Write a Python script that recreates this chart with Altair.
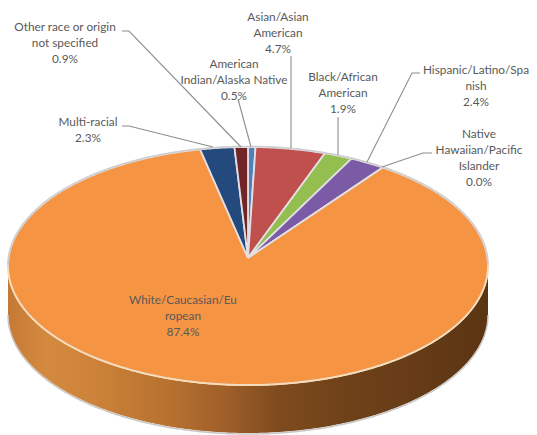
import numpy as np
import pandas as pd
import altair as alt

# Slice shares in percent, clockwise from twelve o'clock
categories = ["American Indian/Alaska Native", "Asian/Asian American", "Black/African American",
              "Hispanic/Latino/Spanish", "Native Hawaiian/Pacific Islander",
              "White/Caucasian/European", "Multi-racial", "Other race or origin not specified"]
shares = [0.5, 4.7, 1.9, 2.4, 0.0, 87.4, 2.3, 0.9]
colors = ["#4f81bd", "#c0504d", "#94bf50", "#7b5ba6", "#4bacc6", "#f59544", "#24497c", "#722527"]

label_text = ["American\nIndian/Alaska Native\n0.5%", "Asian/Asian\nAmerican\n4.7%",
              "Black/African\nAmerican\n1.9%", "Hispanic/Latino/Spa\nnish\n2.4%",
              "Native\nHawaiian/Pacific\nIslander\n0.0%", "White/Caucasian/Eu\nropean\n87.4%",
              "Multi-racial\n2.3%", "Other race or origin\nnot specified\n0.9%"]
label_x = [234, 278, 343, 476, 479, 183, 88, 65]
label_y = [64, 17, 77, 70, 134, 300, 122, 27]

# Leader lines as polylines: one list of (x, y) vertices per callout
leaders = [
    [(238, 99), (251, 147)],
    [(291, 56), (291, 148)],
    [(338, 117), (338, 155)],
    [(420, 73), (412, 73), (367, 162)],
    [(432, 153), (423, 153), (382, 167)],
    [(122, 126), (129, 126), (213, 147)],
    [(122, 31), (129, 31), (241, 147)],
]

# Tilted-disc geometry of the pie
CX, CY, RX, RY = 248, 266, 240, 119
APEX_Y = 258
DEPTH = 48
W, H = 537, 435


def rim(theta_deg, dy=0.0):
    t = np.radians(theta_deg)
    return CX + RX * np.sin(t), CY + dy - RY * np.cos(t)


x_enc = alt.X("px:Q", scale=alt.Scale(domain=[0, W], nice=False, zero=False), axis=None)
y_enc = alt.Y("py:Q", scale=alt.Scale(domain=[H, 0], nice=False, zero=False), axis=None)

# Wedges, closed back at the apex
rows = []
total = sum(shares)
start = 0.0
for cat, share in zip(categories, shares):
    end = start + 360 * share / total
    n = max(2, int((end - start) * 2) + 2)
    pts = [(CX, APEX_Y)] + [rim(a) for a in np.linspace(start, end, n)] + [(CX, APEX_Y)]
    for i, (px, py) in enumerate(pts):
        rows.append({"cat": cat, "i": i, "px": px, "py": py})
    start = end
wedges = (
    alt.Chart(pd.DataFrame(rows))
    .mark_line(filled=True, stroke="#e2e0e4", strokeWidth=1.8, strokeJoin="miter", clip=False)
    .encode(
        x=x_enc, y=y_enc, order="i:Q", detail="cat:N",
        fill=alt.Fill("cat:N", scale=alt.Scale(domain=categories, range=colors), legend=None),
    )
)

# Side wall of the disc, front half only
angles = np.linspace(90, 270, 241)
wx, wy = rim(angles)
wall_df = pd.DataFrame({"px": wx, "py": wy, "py2": wy + DEPTH})
wall_stops = [("#c47a36", 0.0), ("#d48a3e", 0.08), ("#cc8238", 0.18), ("#b87230", 0.33), ("#a0602a", 0.45),
              ("#7f4b1e", 0.56), ("#6f4219", 0.70), ("#643a16", 0.88), ("#5b3412", 1.0)]
wall = (
    alt.Chart(wall_df)
    .mark_area(
        color=alt.Gradient(
            gradient="linear", x1=0, x2=1, y1=0, y2=0,
            stops=[alt.GradientStop(color=c, offset=o) for c, o in wall_stops],
        )
    )
    .encode(x=x_enc, y=y_enc, y2="py2:Q")
)
wall_edge = (
    alt.Chart(pd.DataFrame({"px": wx, "py": wy + DEPTH + 1, "i": range(len(wx))}))
    .mark_line(color="#c9c7c5", strokeWidth=1.5)
    .encode(x=x_enc, y=y_enc, order="i:Q")
)

# Rim highlights: silver along the back, cream along the front
back_a = np.linspace(-90, 90, 181)
bx, by = rim(back_a, -0.5)
back_rim = (
    alt.Chart(pd.DataFrame({"px": bx, "py": by, "i": range(len(bx))}))
    .mark_line(color="#cfcdcd", strokeWidth=1.6)
    .encode(x=x_enc, y=y_enc, order="i:Q")
)
fx, fy = rim(angles, 0.3)
front_rim = (
    alt.Chart(pd.DataFrame({"px": fx, "py": fy, "i": range(len(fx))}))
    .mark_line(color="#fbdcb0", strokeWidth=1.4)
    .encode(x=x_enc, y=y_enc, order="i:Q")
)

# Callout leader lines
leader_rows = []
for k, pts in enumerate(leaders):
    for i, (px, py) in enumerate(pts):
        leader_rows.append({"k": k, "i": i, "px": px, "py": py})
leader_lines = (
    alt.Chart(pd.DataFrame(leader_rows))
    .mark_line(color="#8e8e8e", strokeWidth=1.1)
    .encode(x=x_enc, y=y_enc, order="i:Q", detail="k:N")
)

labels = (
    alt.Chart(pd.DataFrame({"txt": label_text, "px": label_x, "py": label_y}))
    .mark_text(font="Lato", fontSize=11.8, color="#595959", lineBreak="\n", lineHeight=16,
               align="center", baseline="middle")
    .encode(x=x_enc, y=y_enc, text="txt:N")
)

chart = (
    alt.layer(wall, wall_edge, wedges, back_rim, front_rim, leader_lines, labels)
    .properties(width=W, height=H, padding=0, autosize=alt.AutoSizeParams(type="none"), background="white")
    .configure_view(stroke=None)
)

chart.save("out.html", embed_options={"renderer": "svg", "actions": False})
